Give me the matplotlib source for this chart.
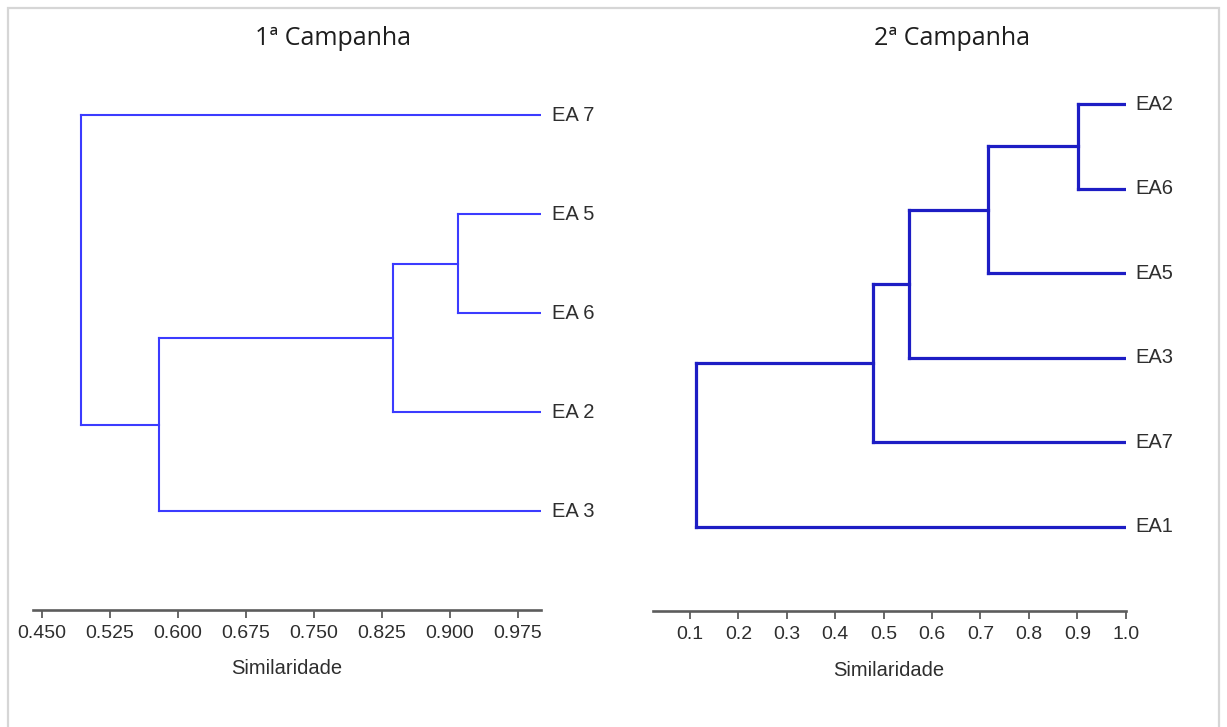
import matplotlib
matplotlib.use("Agg")
import matplotlib.pyplot as plt
from matplotlib.patches import Rectangle

# ---- data -------------------------------------------------------------
# Leaves listed top to bottom; merges are (child_a, child_b, similarity),
# new clusters get ids n, n+1, ... in merge order.
c1_leaves = ["EA 7", "EA 5", "EA 6", "EA 2", "EA 3"]
c1_merges = [(1, 2, 0.909), (5, 3, 0.837), (6, 4, 0.579), (0, 7, 0.493)]
c1_ticks = [0.450, 0.525, 0.600, 0.675, 0.750, 0.825, 0.900, 0.975]

c2_leaves = ["EA2", "EA6", "EA5", "EA3", "EA7", "EA1"]
c2_merges = [(0, 1, 0.901), (6, 2, 0.716), (7, 3, 0.553), (8, 4, 0.478), (9, 5, 0.113)]
c2_ticks = [0.1, 0.2, 0.3, 0.4, 0.5, 0.6, 0.7, 0.8, 0.9, 1.0]

titles = ["1ª Campanha", "2ª Campanha"]
x_label = "Similaridade"

# ---- figure -----------------------------------------------------------
W, H = 1227, 727
fig = plt.figure(figsize=(W / 100, H / 100), dpi=100)
fig.patch.set_facecolor("white")


def px_rect(x0, y_top, x1, y_bottom):
    return [x0 / W, 1 - y_bottom / H, (x1 - x0) / W, (y_bottom - y_top) / H]


# light frame around the whole figure
fig.patches.append(Rectangle((8 / W, -0.01), (1219 - 8) / W, 1 - 8 / H + 0.01,
                             transform=fig.transFigure, fill=False,
                             edgecolor="#d6d6d6", linewidth=1.6, zorder=0))

text_color = "#2e2e2e"
axis_color = "#5c5c5c"
tick_font = dict(family="Liberation Sans", size=14)
label_font = dict(family="Liberation Sans", size=14.5)


def draw_dendrogram(ax, leaves, merges, color, lw, leaf_sim=1.0, label_pad=8):
    n = len(leaves)
    ys = {i: float(i) for i in range(n)}
    xs = {i: leaf_sim for i in range(n)}
    for k, (a, b, s) in enumerate(merges):
        node = n + k
        ax.plot([s, s], [ys[a], ys[b]], color=color, lw=lw, solid_capstyle="projecting")
        ax.plot([s, xs[a]], [ys[a], ys[a]], color=color, lw=lw, solid_capstyle="projecting")
        ax.plot([s, xs[b]], [ys[b], ys[b]], color=color, lw=lw, solid_capstyle="projecting")
        ys[node] = (ys[a] + ys[b]) / 2
        xs[node] = s
    for i, name in enumerate(leaves):
        ax.annotate(name, xy=(leaf_sim, i), xytext=(label_pad, 0),
                    textcoords="offset points", va="center", ha="left",
                    color=text_color, annotation_clip=False, **label_font)


def style_axis(ax, ticks, fmt, xmin, xmax, n_leaves, label_y):
    ax.set_xlim(xmin, xmax)
    ax.set_ylim(n_leaves, -0.5)
    for side in ("top", "left", "right"):
        ax.spines[side].set_visible(False)
    ax.spines["bottom"].set_color(axis_color)
    ax.spines["bottom"].set_linewidth(1.9)
    ax.set_yticks([])
    ax.set_xticks(ticks)
    ax.set_xticklabels([fmt.format(t) for t in ticks], color=text_color, **tick_font)
    ax.tick_params(axis="x", direction="out", length=6, width=1.3,
                   color=axis_color, pad=4.5)
    ax.set_xlabel(x_label, color=text_color, va="center", **label_font)
    ax.xaxis.set_label_coords(0.5, label_y)
    ax.patch.set_alpha(0)


# left panel
ax1 = fig.add_axes(px_rect(33.3, 66, 540.7, 610))
draw_dendrogram(ax1, c1_leaves, c1_merges, "#3b3bff", 1.5, label_pad=8.4)
style_axis(ax1, c1_ticks, "{:.3f}", 0.4407, 1.0, len(c1_leaves), -59 / 544)

# right panel
ax2 = fig.add_axes(px_rect(652.7, 62, 1125.7, 611))
draw_dendrogram(ax2, c2_leaves, c2_merges, "#1d1dc4", 2.3, label_pad=7.2)
style_axis(ax2, c2_ticks, "{:.1f}", 0.023, 1.0, len(c2_leaves), -59 / 549)

# titles
title_font = dict(family="Open Sans", size=18, color="#1e1e1e")
fig.text(333 / W, 1 - 45 / H, titles[0], ha="center", va="baseline", **title_font)
fig.text(952 / W, 1 - 45 / H, titles[1], ha="center", va="baseline", **title_font)

fig.savefig("out.png", dpi=100, facecolor="white")
